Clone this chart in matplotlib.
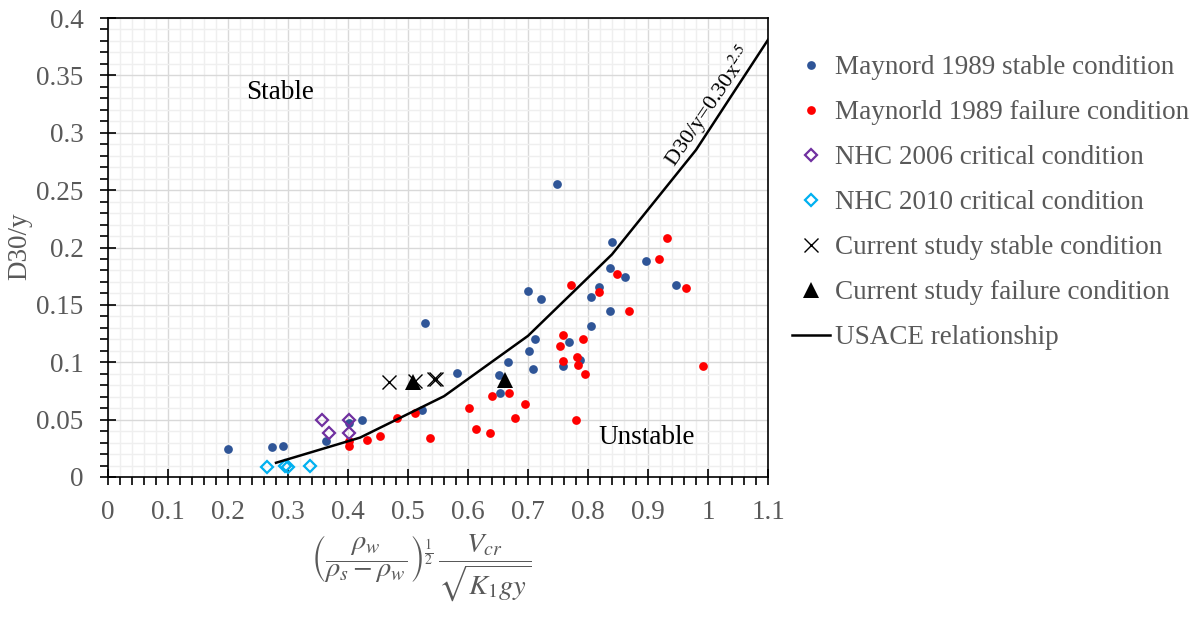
import matplotlib
matplotlib.use('Agg')
import matplotlib.pyplot as plt
from matplotlib.ticker import MultipleLocator, FuncFormatter
from matplotlib import rcParams

rcParams['font.family'] = 'serif'
rcParams['font.serif'] = ['Liberation Serif']
rcParams['mathtext.fontset'] = 'stix'
rcParams['font.size'] = 19.5

# Maynord 1989 stable
stable_x = [0.200, 0.273, 0.292, 0.363, 0.401, 0.423, 0.523, 0.529, 0.581, 0.651,
            0.653, 0.666, 0.700, 0.702, 0.709, 0.711, 0.722, 0.748, 0.758, 0.769,
            0.787, 0.805, 0.805, 0.818, 0.836, 0.836, 0.840, 0.862, 0.897, 0.947]
stable_y = [0.024, 0.026, 0.027, 0.031, 0.047, 0.050, 0.058, 0.134, 0.091, 0.089,
            0.073, 0.100, 0.162, 0.110, 0.094, 0.120, 0.155, 0.255, 0.097, 0.118,
            0.102, 0.157, 0.132, 0.166, 0.145, 0.182, 0.205, 0.174, 0.188, 0.167]
# Maynord 1989 failure
fail_x = [0.402, 0.402, 0.431, 0.453, 0.482, 0.512, 0.536, 0.602, 0.613, 0.636,
          0.640, 0.668, 0.679, 0.695, 0.754, 0.758, 0.758, 0.771, 0.780, 0.782,
          0.784, 0.791, 0.795, 0.818, 0.848, 0.868, 0.919, 0.931, 0.964, 0.991]
fail_y = [0.031, 0.027, 0.032, 0.036, 0.051, 0.056, 0.034, 0.060, 0.042, 0.038,
          0.071, 0.073, 0.051, 0.064, 0.114, 0.124, 0.101, 0.167, 0.050, 0.105,
          0.098, 0.120, 0.090, 0.161, 0.177, 0.145, 0.190, 0.208, 0.165, 0.097]
# NHC 2006 / 2010
nhc06_x = [0.356, 0.368, 0.402, 0.402]
nhc06_y = [0.050, 0.038, 0.050, 0.038]
nhc10_x = [0.265, 0.295, 0.300, 0.336]
nhc10_y = [0.009, 0.010, 0.009, 0.010]
# current study
cur_st_x = [0.468, 0.512, 0.543, 0.547]
cur_st_y = [0.0825, 0.084, 0.085, 0.085]
cur_fa_x = [0.509, 0.662]
cur_fa_y = [0.083, 0.0845]
# USACE relationship D30/y = 0.30x^2.5 (read points)
usace_x = [0.28, 0.42, 0.56, 0.70, 0.84, 0.98, 1.10]
usace_y = [0.0124, 0.0343, 0.0704, 0.123, 0.194, 0.285, 0.381]

grey = '#595959'
fig = plt.figure(figsize=(12.04, 6.17), dpi=100)
ax = fig.add_axes([108/1204, 1-477/617, 660/1204, 459/617])

ax.plot(stable_x, stable_y, 'o', color='#2F5597', ms=6.3, mew=0,
        label='Maynord 1989 stable condition', zorder=3)
ax.plot(fail_x, fail_y, 'o', color='#FF0000', ms=6.3, mew=0,
        label='Maynorld 1989 failure condition', zorder=3)
ax.plot(nhc06_x, nhc06_y, 'D', mfc='none', mec='#7030A0', ms=6.5, mew=1.6,
        label='NHC 2006 critical condition', zorder=3)
ax.plot(nhc10_x, nhc10_y, 'D', mfc='none', mec='#00B0F0', ms=6.5, mew=1.6,
        label='NHC 2010 critical condition', zorder=3)
ax.plot(cur_st_x, cur_st_y, 'x', color='k', ms=10, mew=1.0,
        label='Current study stable condition', zorder=4)
ax.plot(cur_fa_x, cur_fa_y, '^', color='k', ms=11, mew=0,
        label='Current study failure condition', zorder=4)
ax.plot(usace_x, usace_y, 'k-', lw=1.8, label='USACE relationship', zorder=3)

ax.set_xlim(0, 1.1)
ax.set_ylim(0, 0.4)
ax.xaxis.set_major_locator(MultipleLocator(0.1))
ax.xaxis.set_minor_locator(MultipleLocator(0.02))
ax.yaxis.set_major_locator(MultipleLocator(0.05))
ax.yaxis.set_minor_locator(MultipleLocator(0.01))
fmt = FuncFormatter(lambda v, p: ('%g' % round(v, 3)))
ax.xaxis.set_major_formatter(fmt)
ax.yaxis.set_major_formatter(fmt)

ax.grid(which='major', color='#d9d9d9', lw=1.0, zorder=0)
ax.grid(which='minor', color='#efefef', lw=1.0, zorder=0)
ax.set_axisbelow(True)
ax.tick_params(which='major', direction='inout', length=11, width=1.2, colors='k',
               labelcolor=grey, labelsize=19.5)
ax.tick_params(axis='x', which='major', pad=11)
ax.tick_params(axis='y', which='major', pad=12)
ax.tick_params(which='minor', direction='out', length=6, width=1.2, colors='k')
for s in ax.spines.values():
    s.set_linewidth(1.2)

ax.text(0.287, 0.3355, 'Stable', fontsize=19.5, ha='center', va='center', color='k')
ax.text(0.898, 0.034, 'Unstable', fontsize=19.5, ha='center', va='center', color='k')
ax.text(1.002, 0.323, 'D30/y=0.30x$^{\\mathrm{2.5}}$', fontsize=16, rotation=55.8,
        ha='center', va='center', color='k', rotation_mode='anchor')

fig.text(20/1204, 1-246/617, 'D30/y', rotation=90, fontsize=19.5, color=grey,
         ha='center', va='center')
fig.text(421/1204, 1-568/617,
         r'$\left(\dfrac{\rho_w}{\rho_s-\rho_w}\right)^{\frac{1}{2}}\,\dfrac{V_{cr}}{\sqrt{K_1 g y}}$',
         fontsize=20.5, color=grey, ha='center', va='center')

leg = ax.legend(loc='upper left', bbox_to_anchor=(792/1204, 1-55/617),
                bbox_transform=fig.transFigure, frameon=False, fontsize=19.5,
                labelspacing=0.74, handlelength=1.4, handletextpad=0.2,
                borderaxespad=0, borderpad=0)
for t in leg.get_texts():
    t.set_color(grey)

fig.savefig('out.png', dpi=100)
